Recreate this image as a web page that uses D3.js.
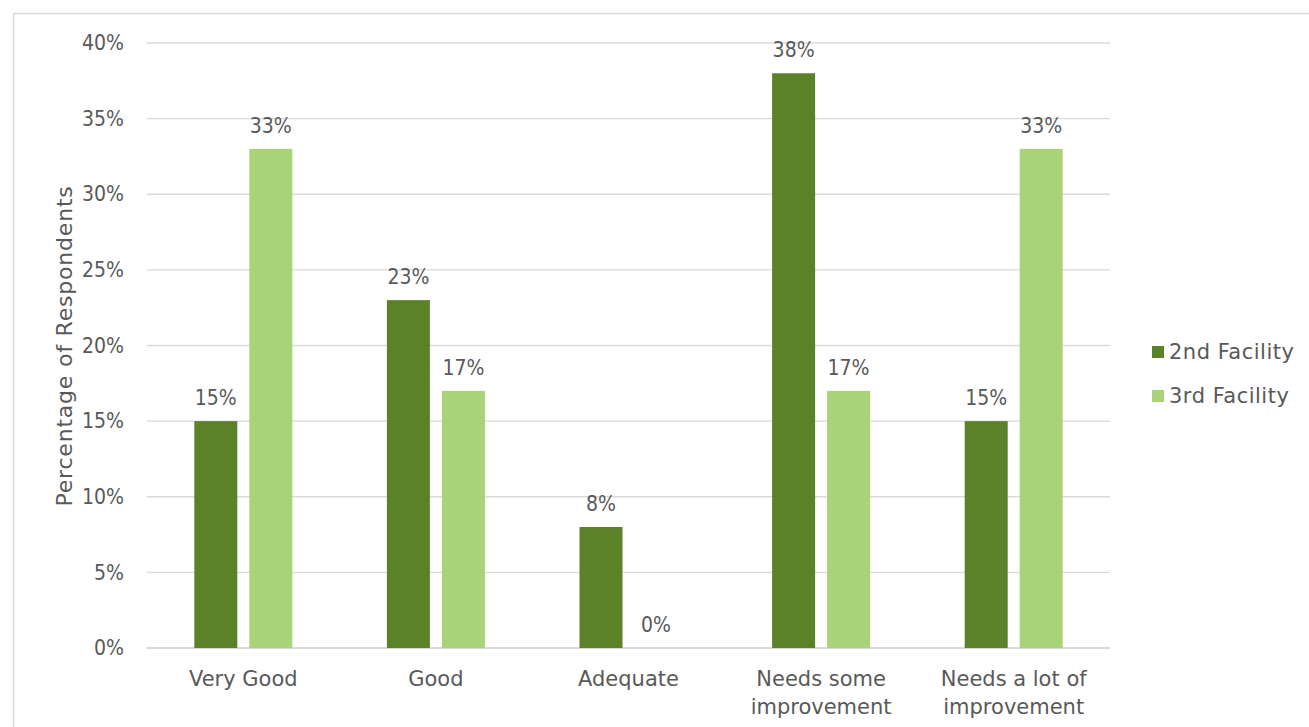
<!DOCTYPE html>
<html><head><meta charset="utf-8">
<script src="https://cdn.jsdelivr.net/npm/d3@7"></script>
<style>body{margin:0;background:#fff;} text{font-family:"DejaVu Sans",sans-serif;fill:#595959;}
.num{font-family:"DejaVu Sans Condensed","DejaVu Sans",sans-serif;font-stretch:condensed;}</style>
</head><body>
<svg id="c" width="1309" height="727"></svg>
<script>
const categories = ["Very Good", "Good", "Adequate", "Needs some improvement", "Needs a lot of improvement"];
const categoryLines = [["Very Good"], ["Good"], ["Adequate"], ["Needs some", "improvement"], ["Needs a lot of", "improvement"]];
const seriesNames = ["2nd Facility", "3rd Facility"];
const facility2 = [15, 23, 8, 38, 15];
const facility3 = [33, 17, 0, 17, 33];
const yTicks = [0, 5, 10, 15, 20, 25, 30, 35, 40];
const colors = ["#5B8229", "#A9D378"];

const svg = d3.select("#c");
svg.append("rect").attr("x", 13.5).attr("y", 13.5).attr("width", 1310).attr("height", 730)
  .attr("fill", "none").attr("stroke", "#D9D9D9").attr("stroke-width", 1.5);

const x0 = d3.scaleBand().domain(categories).range([147, 1110]);
const x1 = d3.scaleBand().domain(seriesNames).range([-49, 49]).paddingInner(0.218);
const y = d3.scaleLinear().domain([0, 40]).range([648, 43]);

const yAxis = d3.axisLeft(y).tickValues(yTicks).tickFormat(d => d + "%").tickSize(0).tickPadding(23);
const yg = svg.append("g").attr("transform", "translate(147,0)").call(yAxis);
yg.select(".domain").remove();
yg.selectAll("text").attr("class", "num").style("font-size", "21px").attr("fill", "#595959");
svg.append("g").selectAll("line").data(yTicks).join("line")
  .attr("x1", 147).attr("x2", 1110).attr("y1", d => y(d)).attr("y2", d => y(d))
  .attr("stroke", "#D9D9D9").attr("stroke-width", d => d === 0 ? 2 : 1.3);

const data = categories.map((c, i) => ({c, vals: [facility2[i], facility3[i]]}));
const groups = svg.append("g").selectAll("g").data(data).join("g")
  .attr("transform", d => `translate(${x0(d.c) + x0.bandwidth() / 2},0)`);
groups.selectAll("rect").data(d => d.vals.map((v, j) => ({v, s: seriesNames[j], j}))).join("rect")
  .attr("x", d => x1(d.s)).attr("width", x1.bandwidth())
  .attr("y", d => y(d.v)).attr("height", d => y(0) - y(d.v))
  .attr("fill", d => colors[d.j]);
groups.selectAll("text.lab").data(d => d.vals.map((v, j) => ({v, s: seriesNames[j]}))).join("text")
  .attr("class", "lab num")
  .attr("x", d => x1(d.s) + x1.bandwidth() / 2).attr("y", d => y(d.v) - 16)
  .attr("text-anchor", "middle").style("font-size", "21px").text(d => d.v + "%");

const cl = svg.append("g").selectAll("text").data(categories).join("text")
  .attr("x", d => x0(d) + x0.bandwidth() / 2).attr("y", 686)
  .attr("text-anchor", "middle").style("font-size", "21px");
cl.each(function(d, i) {
  d3.select(this).selectAll("tspan").data(categoryLines[i]).join("tspan")
    .attr("x", x0(d) + x0.bandwidth() / 2).attr("dy", (t, k) => k === 0 ? 0 : 28).text(t => t);
});

svg.append("text").attr("transform", "translate(72,346) rotate(-90)")
  .attr("text-anchor", "middle").style("font-size", "22px").style("letter-spacing", "0.8px")
  .text("Percentage of Respondents");

const lg = svg.append("g").selectAll("g").data(seriesNames).join("g")
  .attr("transform", (d, i) => `translate(1152,${346 + i * 44})`);
lg.append("rect").attr("width", 12).attr("height", 12).attr("fill", (d, i) => colors[i]);
lg.append("text").attr("x", 17).attr("y", 13).style("font-size", "21px").style("letter-spacing", "0.5px").text(d => d);
</script>
</body></html>
